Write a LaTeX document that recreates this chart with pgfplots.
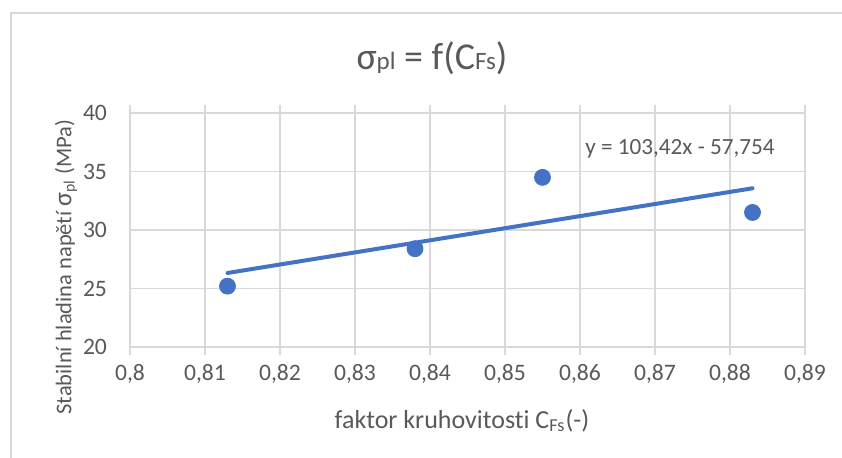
\documentclass[border=0pt]{standalone}
\usepackage{fontspec}
\setmainfont{Carlito}[Ligatures=NoCommon]
\usepackage{pgfplots}
\pgfplotsset{compat=1.18}
\definecolor{txt}{HTML}{595959}
\definecolor{grd}{HTML}{D9D9D9}
\definecolor{blu}{HTML}{4472C4}
\begin{document}
\begin{tikzpicture}
\useasboundingbox (0,0) rectangle (421pt,228.5pt);
\draw[grd, line width=0.75pt] (5.5pt,-5pt) -- (5.5pt,222pt) -- (430pt,222pt);
\begin{axis}[
  at={(65pt,55pt)}, anchor=south west,
  scale only axis, width=337.5pt, height=117pt,
  xmin=0.8, xmax=0.89, ymin=20, ymax=40,
  xtick={0.8,0.81,0.82,0.83,0.84,0.85,0.86,0.87,0.88,0.89},
  ytick={20,25,30,35,40},
  /pgf/number format/assume math mode=true,
  xticklabel style={/pgf/number format/use comma, /pgf/number format/fixed, /pgf/number format/precision=2, yshift=-1pt},
  ticklabel style={font=\fontsize{11.8}{14}\selectfont, text=txt},
  grid=major,
  major grid style={grd, line width=0.6pt},
  axis line style={grd, line width=0.6pt},
  tick align=outside,
  xtick style={grd, line width=0.6pt},
  major tick length=4pt,
  ytick style={draw=none},
  yticklabel style={xshift=-4pt},
  clip=false,
]
\addplot[only marks, mark=*, mark size=4pt, mark options={fill=blu, draw=blu}]
  coordinates {(0.813,25.2) (0.838,28.4) (0.855,34.5) (0.883,31.5)};
\addplot[blu, line width=2pt, line cap=round]
  coordinates {(0.813,26.327) (0.883,33.566)};
\end{axis}
\node[anchor=base, text=txt, font=\fontsize{19}{22}\selectfont] at (216pt,194pt)
  {σ{\fontsize{12.5}{14}\selectfont pl} = f(C{\fontsize{12.5}{14}\selectfont Fs})};
\node[anchor=base, text=txt, font=\fontsize{11.6}{13}\selectfont] at (340pt,151.5pt)
  {y = 103,42x - 57,754};
\node[anchor=base, text=txt, font=\fontsize{13}{15}\selectfont] at (231pt,14.5pt)
  {faktor kruhovitosti C\textsubscript{Fs}(-)};
\node[rotate=90, text=txt, font=\fontsize{11.25}{13}\selectfont] at (33pt,95pt)
  {Stabilní hladina napětí {\fontsize{13}{13}\selectfont σ}\textsubscript{pl} (MPa)};
\end{tikzpicture}
\end{document}
